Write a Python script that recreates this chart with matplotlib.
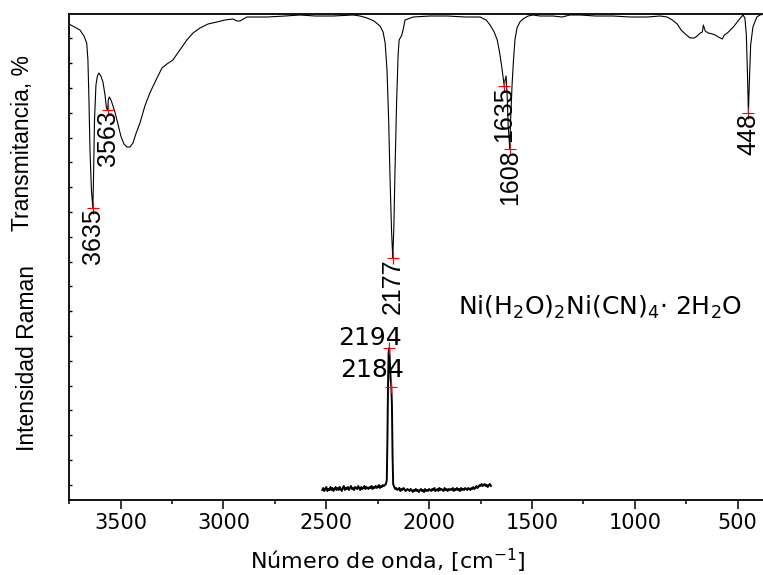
import numpy as np
import matplotlib.pyplot as plt

# IR spectrum (arbitrary height units)
ir_wn = [3751, 3698, 3678, 3665, 3659, 3654, 3649, 3642, 3635, 3632, 3627, 3620,
         3613, 3606, 3596, 3586, 3576, 3569, 3563, 3560, 3555, 3547, 3537, 3528,
         3513, 3499, 3484, 3469, 3455, 3440, 3426, 3406, 3382, 3358, 3328, 3299,
         3275, 3246, 3212, 3178, 3148, 3114, 3075, 3032, 2993, 2954, 2934, 2920,
         2886, 2788, 2700, 2628, 2555, 2467, 2370, 2336, 2302, 2268, 2239, 2224,
         2214, 2205, 2197, 2190, 2183, 2177, 2172, 2166, 2158, 2151, 2146, 2133,
         2127, 2117, 2078, 1995, 1912, 1825, 1752, 1723, 1704, 1684, 1669, 1658,
         1647, 1640, 1635, 1631, 1626, 1621, 1616, 1608, 1605, 1597, 1590, 1583,
         1573, 1559, 1544, 1519, 1495, 1461, 1398, 1354, 1315, 1266, 1193, 1106,
         1023, 940, 877, 843, 818, 794, 775, 755, 731, 711, 697, 682, 672, 667,
         658, 643, 623, 609, 594, 575, 565, 550, 536, 521, 502, 487, 474, 465,
         458, 453, 448, 443, 437, 426, 407, 391, 377]
ir_val = [476, 470, 464, 457, 440, 400, 350, 310, 292, 320, 380, 415,
          424, 427, 424, 418, 405, 392, 390, 400, 403, 400, 394, 388,
          376, 364, 356, 353, 353, 357, 366, 377, 394, 407, 420, 432,
          436, 440, 450, 460, 467, 472, 476, 478, 480, 481, 479, 479,
          483, 483, 484, 485, 484, 484, 485, 484, 482, 479, 474, 468,
          457, 430, 380, 320, 270, 242, 270, 330, 400, 445, 460, 465,
          470, 480, 483, 484, 484, 483, 483, 480, 475, 468, 460, 448,
          433, 422, 414, 420, 424, 405, 375, 351, 375, 415, 440, 460,
          472, 478, 481, 484, 485, 484, 484, 483, 485, 485, 484, 484,
          483, 483, 484, 483, 480, 476, 470, 466, 462, 462, 464, 467, 468, 475,
          469, 467, 466, 465, 463, 461, 465, 467, 470, 473, 478, 482, 485, 482,
          465, 430, 387, 420, 455, 473, 483, 485, 486]

ir_peaks = [3635, 3563, 2177, 1635, 1608, 448]
ir_peak_val = [292, 390, 242, 414, 351, 387]

# Raman spectrum
raman_left = [10, 12, 9, 11, 13, 9, 11, 10, 13, 10, 12, 9, 11, 13, 10,
              12, 10, 13, 11, 9, 12, 14, 10, 12, 11, 13, 10, 12, 14, 11,
              12, 10, 13, 12, 11, 14, 12, 10, 13, 11, 12, 14, 11, 13, 12,
              11, 13, 12, 14, 11, 13, 12, 14, 12, 13, 15, 12, 14, 13, 15,
              14, 15, 16]
raman_left_wn = list(range(2520, 2209, -5))
peak_wn = [2206, 2203, 2200, 2197, 2194, 2190, 2187, 2184, 2181, 2178, 2175]
peak_val = [20, 60, 115, 148, 152, 132, 120, 113, 95, 45, 16]
raman_right = [13, 11, 12, 10, 11, 12, 9, 11, 10, 12, 11, 9, 10, 11, 10,
               9, 11, 10, 8, 10, 9, 11, 9, 10, 8, 10, 11, 9, 10, 8, 11, 9, 10, 9, 11,
               10, 9, 11, 10, 12, 9, 10, 11, 9, 12, 10, 11, 10, 9, 12, 10, 11, 9, 11, 10,
               11, 10, 12, 9, 11, 10, 12, 10, 11, 9, 12, 10, 11, 10, 12, 11, 10, 12, 11, 10,
               12, 11, 13, 11, 12, 14, 12, 13, 15, 14, 16, 14, 15, 16, 14, 15, 13, 15, 16, 14]
raman_right_wn = list(range(2170, 1699, -5))
raman_wn = raman_left_wn + peak_wn + raman_right_wn
raman_val = raman_left + peak_val + raman_right

raman_peaks = [2194, 2184]
raman_peak_val = [152, 113]

fig = plt.figure(figsize=(7.63, 5.75), dpi=100)
ax = fig.add_axes([69/763, 75/575, 694/763, 486/575])

ax.plot(ir_wn, ir_val, color='black', lw=0.8)
ax.plot(raman_wn, raman_val, color='black', lw=1.4)
ax.plot(ir_peaks, ir_peak_val, '+', color='red', ms=8, mew=0.8)
ax.plot(raman_peaks, raman_peak_val, '+', color='red', ms=8, mew=0.8)

for wn, v in zip(ir_peaks, ir_peak_val):
    ax.text(wn, v, str(wn), rotation=90, ha='center', va='top',
            fontsize=18, family='Liberation Sans')

ax.annotate('2194', (2194, 152), xytext=(13, 3), textcoords='offset pixels',
            ha='right', va='baseline', fontsize=18, family='DejaVu Sans')
ax.annotate('2184', (2184, 113), xytext=(13, 10), textcoords='offset pixels',
            ha='right', va='baseline', fontsize=18, family='DejaVu Sans')

ax.text(1859, 185, r'Ni(H$_2$O)$_2$Ni(CN)$_4$$\cdot$ 2H$_2$O', ha='left',
        va='baseline', fontsize=18, family='DejaVu Sans')

ax.set_xlim(3751, 377)
ax.set_ylim(0, 486)
ax.set_xticks([3500, 3000, 2500, 2000, 1500, 1000, 500])
ax.set_xticks([3750, 3250, 2750, 2250, 1750, 1250, 750], minor=True)
ax.set_yticks(np.arange(15.3, 486, 24.8))
ax.set_yticklabels([])
ax.tick_params(axis='x', which='major', direction='out', length=6.5, width=1.1,
               labelsize=15, pad=3)
ax.tick_params(axis='x', which='minor', direction='out', length=3, width=1.1)
ax.tick_params(axis='y', direction='in', length=2.2, width=1.0)
for lab in ax.get_xticklabels():
    lab.set_family('DejaVu Sans')
ax.spines['right'].set_visible(False)
for s in ['left', 'top', 'bottom']:
    ax.spines[s].set_linewidth(1.3)

fig.text(388/763, 1 - 569/575, r'Número de onda, [cm$^{-1}$]', ha='center',
         va='baseline', fontsize=16, family='DejaVu Sans')
fig.text(23/763, 1 - 143/575, 'Transmitancia, %', rotation=90, ha='center',
         va='center', fontsize=16.5, family='Liberation Sans')
fig.text(27.5/763, 1 - 358/575, 'Intensidad Raman', rotation=90, ha='center',
         va='center', fontsize=16.5, family='Liberation Sans')

fig.savefig('out.png', dpi=100)
